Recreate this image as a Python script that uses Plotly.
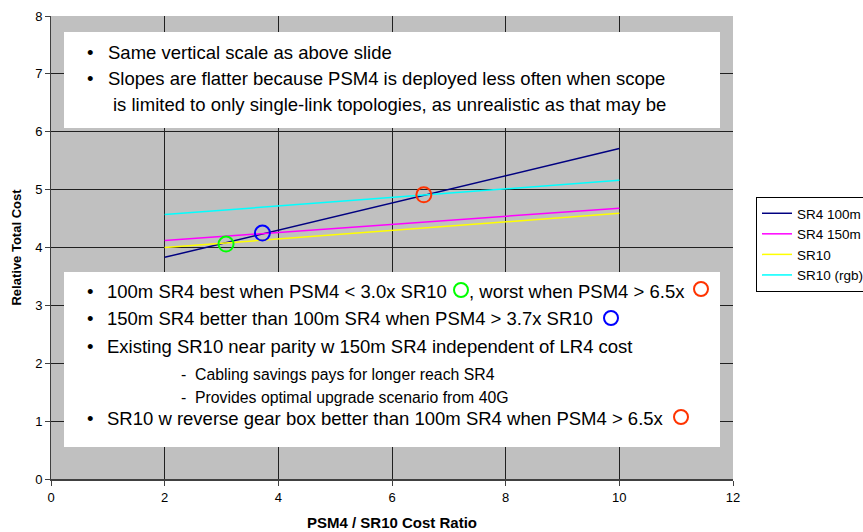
import plotly.graph_objects as go

# ---- data ----
x_ends = [2, 10]
sr4_100m = [3.83, 5.71]
sr4_150m = [4.12, 4.68]
sr10 = [4.00, 4.59]
sr10_rgb = [4.57, 5.16]

cross_x = [3.08, 3.72, 6.56]
cross_y = [4.06, 4.25, 4.91]
cross_colors = ["#00FF00", "#0000FF", "#FF3300"]

x_ticks = [0, 2, 4, 6, 8, 10, 12]
y_ticks = [0, 1, 2, 3, 4, 5, 6, 7, 8]

# ---- layout geometry (pixels) ----
W, H = 863, 532
L, R, T, B = 51, 733, 16, 479


def px(x):
    return (x - L) / (R - L)


def py(y):
    return (B - y) / (B - T)


FONT = "Liberation Sans, Arial, sans-serif"

fig = go.Figure()
series = [
    ("SR4 100m", sr4_100m, "#000080"),
    ("SR4 150m", sr4_150m, "#FF00FF"),
    ("SR10", sr10, "#FFFF00"),
    ("SR10 (rgb)", sr10_rgb, "#00FFFF"),
]
for name, ys, col in series:
    fig.add_trace(go.Scatter(x=x_ends, y=ys, mode="lines", name=name,
                             line=dict(color=col, width=1.5)))

fig.add_trace(go.Scatter(x=cross_x, y=cross_y, mode="markers", showlegend=False,
                         marker=dict(symbol="circle-open", size=15,
                                     color=cross_colors,
                                     line=dict(width=2, color=cross_colors))))

shapes = []
# white text boxes
for (x0, y0, x1, y1) in [(64, 32, 720, 128), (64, 272, 720, 447)]:
    shapes.append(dict(type="rect", xref="paper", yref="paper",
                       x0=px(x0), x1=px(x1), y0=py(y1), y1=py(y0),
                       fillcolor="white", line=dict(width=0), layer="above"))
# circles inside text
for (cx, cy, col) in [(461, 290, "#00FF00"), (701, 289, "#FF3300"),
                      (611, 318, "#0000FF"), (681, 417, "#FF3300")]:
    r = 7
    shapes.append(dict(type="circle", xref="paper", yref="paper",
                       x0=px(cx - r), x1=px(cx + r), y0=py(cy + r), y1=py(cy - r),
                       line=dict(color=col, width=2), fillcolor="rgba(0,0,0,0)",
                       layer="above"))

ann = []


def txt(x, y, s, size=18.5):
    ann.append(dict(xref="paper", yref="paper", x=px(x), y=py(y), text=s,
                    showarrow=False, xanchor="left", yanchor="middle",
                    font=dict(family=FONT, size=size, color="black")))


# box 1
txt(85, 52, "•")
txt(106, 52, "Same vertical scale as above slide")
txt(85, 78, "•")
txt(106, 78, "Slopes are flatter because PSM4 is deployed less often when scope")
txt(111, 104, "is limited to only single-link topologies, as unrealistic as that may be")
# box 2
txt(85, 291, "•")
txt(105, 291, "100m SR4 best when PSM4 &lt; 3.0x SR10")
txt(467, 291, ", worst when PSM4 &gt; 6.5x")
txt(85, 318, "•")
txt(105, 318, "150m SR4 better than 100m SR4 when PSM4 &gt; 3.7x SR10")
txt(85, 346, "•")
txt(105, 346, "Existing SR10 near parity w 150m SR4 independent of LR4 cost")
txt(179, 374, "-  Cabling savings pays for longer reach SR4", 15.8)
txt(179, 397, "-  Provides optimal upgrade scenario from 40G", 15.8)
txt(85, 418, "•")
txt(105, 418, "SR10 w reverse gear box better than 100m SR4 when PSM4 &gt; 6.5x")

fig.update_layout(
    width=W, height=H,
    margin=dict(l=L, r=W - R, t=T, b=H - B),
    paper_bgcolor="white",
    plot_bgcolor="#C0C0C0",
    font=dict(family=FONT, size=13, color="black"),
    shapes=shapes,
    annotations=ann,
    legend=dict(xref="container", yref="container",
                x=756 / W, y=1 - 197 / H, xanchor="left", yanchor="top",
                bgcolor="white", bordercolor="black", borderwidth=1,
                font=dict(family=FONT, size=13.5), itemwidth=30,
                tracegroupgap=0),
    xaxis=dict(range=[0, 12], tickvals=x_ticks, showgrid=True, automargin=False,
               gridcolor="#202020", gridwidth=1, zeroline=False,
               showline=True, linecolor="#404040", linewidth=2,
               ticks="outside", ticklen=5, tickcolor="#404040",
               tickfont=dict(size=13),
               title=dict(text="<b>PSM4 / SR10 Cost Ratio</b>",
                          font=dict(size=15), standoff=14)),
    yaxis=dict(range=[0, 8], tickvals=y_ticks, showgrid=True, automargin=False,
               gridcolor="#202020", gridwidth=1, zeroline=False,
               showline=True, linecolor="#404040", linewidth=1,
               ticks="outside", ticklen=5, tickcolor="#404040",
               tickfont=dict(size=13),
               title=dict(text="<b>Relative Total Cost</b>",
                          font=dict(size=13), standoff=10)),
)

fig.write_html("out.html")
